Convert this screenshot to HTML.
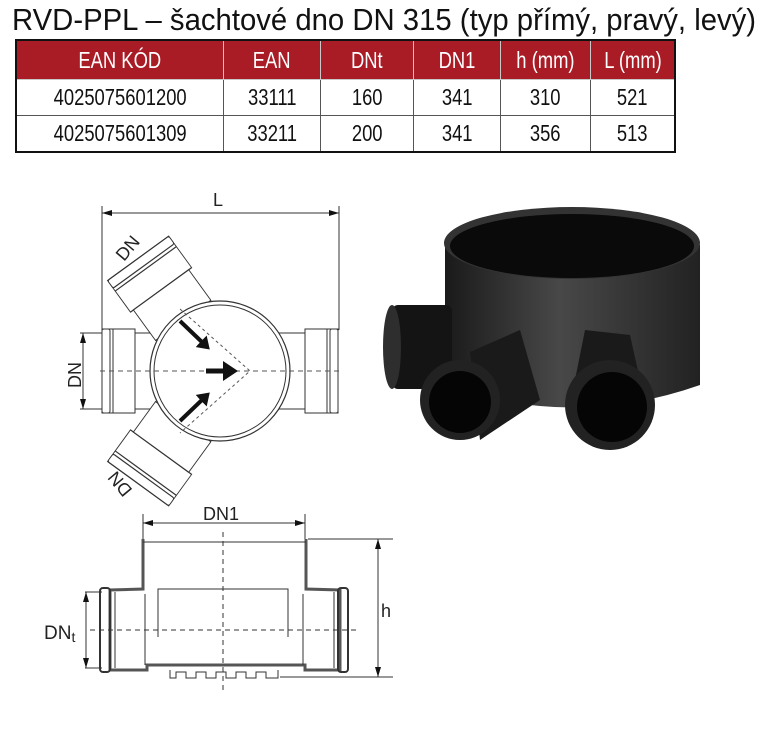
<!DOCTYPE html>
<html><head><meta charset="utf-8"><style>
html,body{margin:0;padding:0;background:#fff;}
body{width:779px;height:730px;position:relative;overflow:hidden;font-family:"Liberation Sans",sans-serif;}
.title{position:absolute;left:12px;top:2px;font-size:31px;color:#111;white-space:nowrap;transform:scaleX(0.945);transform-origin:0 0;}
table{position:absolute;left:15px;top:39px;border-collapse:collapse;border:2px solid #111;}
td{border:1px solid #555;text-align:center;font-size:23px;color:#111;padding:0;height:35px;}
td span{display:inline-block;transform:scaleX(0.8);}
tr.h td{background:#a91b25;color:#fff;height:38px;border-color:#c8c8c8;}
svg{position:absolute;left:0;top:0;}
</style></head><body>
<div class="title">RVD-PPL – šachtové dno DN 315 (typ přímý, pravý, levý)</div>
<table>
<tr class="h"><td style="width:206px"><span>EAN KÓD</span></td><td style="width:96px"><span>EAN</span></td><td style="width:92px"><span>DNt</span></td><td style="width:86px"><span>DN1</span></td><td style="width:89px"><span>h (mm)</span></td><td style="width:83px"><span>L (mm)</span></td></tr>
<tr><td><span>4025075601200</span></td><td><span>33111</span></td><td><span>160</span></td><td><span>341</span></td><td><span>310</span></td><td><span>521</span></td></tr>
<tr><td><span>4025075601309</span></td><td><span>33211</span></td><td><span>200</span></td><td><span>341</span></td><td><span>356</span></td><td><span>513</span></td></tr>
</table>
<svg width="779" height="730" viewBox="0 0 779 730">
<defs>
<marker id="ar" markerWidth="10" markerHeight="6" refX="10" refY="3" orient="auto-start-reverse" markerUnits="userSpaceOnUse"><path d="M0,0 L10,3 L0,6z" fill="#111"/></marker>
<marker id="ab" markerWidth="4" markerHeight="4" refX="1" refY="2" orient="auto" markerUnits="strokeWidth"><path d="M0,0 L3,2 L0,4z" fill="#111"/></marker>
<g id="pipe" fill="#fff" stroke="#333" stroke-width="1">
<rect x="-118" y="-42" width="33" height="84"/>
<rect x="-118" y="-42" width="8" height="84" rx="2"/>
<line x1="-107" y1="-42" x2="-107" y2="42"/>
<rect x="-85" y="-38" width="32" height="76"/>
</g>
<linearGradient id="body" x1="0" x2="1"><stop offset="0" stop-color="#1a1a1a"/><stop offset="0.45" stop-color="#484848"/><stop offset="1" stop-color="#222"/></linearGradient>
</defs>
<g stroke="#333" stroke-width="1" fill="none">
<line x1="102" y1="213" x2="339" y2="213" marker-start="url(#ar)" marker-end="url(#ar)"/>
<line x1="102" y1="206" x2="102" y2="330"/><line x1="339" y1="206" x2="339" y2="330"/>
<line x1="80" y1="333" x2="102" y2="333"/><line x1="80" y1="409" x2="102" y2="409"/>
<line x1="83" y1="333" x2="83" y2="409" marker-start="url(#ar)" marker-end="url(#ar)"/>
</g>
<g transform="translate(220,371)">
<use href="#pipe"/>
<use href="#pipe" transform="scale(-1,1)"/>
<use href="#pipe" transform="rotate(54) scale(1.18,0.9)"/>
<use href="#pipe" transform="rotate(-54) scale(1.18,0.9)"/>
<circle r="70" fill="#fff" stroke="#333" stroke-width="1.2"/>
<circle r="66" fill="none" stroke="#333" stroke-width="1"/>
<line x1="-120" y1="0" x2="120" y2="0" stroke="#555" stroke-dasharray="5,4"/>
<path d="M-40,-62 L30,0 L-40,62" fill="none" stroke="#555" stroke-dasharray="3,3"/>
<line x1="-14" y1="0" x2="8" y2="0" stroke="#111" stroke-width="5" marker-end="url(#ab)"/>
<line x1="-40" y1="-50" x2="-16" y2="-27" stroke="#111" stroke-width="4" marker-end="url(#ab)"/>
<line x1="-40" y1="50" x2="-16" y2="27" stroke="#111" stroke-width="4" marker-end="url(#ab)"/>
</g>
<text x="213" y="206" font-size="18" fill="#222">L</text>
<text transform="translate(81,388) rotate(-90)" font-size="18" fill="#222">DN</text>
<text transform="translate(124,262) rotate(-50)" font-size="18" fill="#222">DN</text>
<text transform="translate(133,490) rotate(230)" font-size="18" fill="#222">DN</text>
<g>
<path d="M445,245 L445,385 Q572,430 700,385 L700,245 Z" fill="url(#body)"/>
<ellipse cx="572" cy="243" rx="128" ry="36" fill="#333"/>
<ellipse cx="572" cy="246" rx="122" ry="32" fill="#0a0a0a"/>
<rect x="392" y="305" width="60" height="84" rx="6" fill="#141414"/>
<ellipse cx="392" cy="347" rx="9" ry="42" fill="#2e2e2e"/>
<path d="M470,352 L520,330 L540,400 L480,440 Z" fill="#1a1a1a"/>
<circle cx="460" cy="400" r="40" fill="#222"/>
<circle cx="460" cy="402" r="31" fill="#050505"/>
<path d="M585,330 L630,335 L640,380 L575,380 Z" fill="#1a1a1a"/>
<circle cx="610" cy="405" r="45" fill="#222"/>
<circle cx="612" cy="407" r="35" fill="#050505"/>
</g>
<g stroke="#333" stroke-width="1" fill="none">
<line x1="143" y1="514" x2="143" y2="540"/><line x1="305" y1="514" x2="305" y2="540"/>
<line x1="143" y1="523" x2="305" y2="523" marker-start="url(#ar)" marker-end="url(#ar)"/>
<line x1="308" y1="539" x2="393" y2="539"/><line x1="280" y1="677" x2="393" y2="677"/>
<line x1="378" y1="539" x2="378" y2="677" marker-start="url(#ar)" marker-end="url(#ar)"/>
<line x1="85" y1="592" x2="102" y2="592"/><line x1="85" y1="668" x2="102" y2="668"/>
<line x1="86" y1="592" x2="86" y2="668" marker-start="url(#ar)" marker-end="url(#ar)"/>
<path d="M143,539 L143,589 L110,590 L110,670 L147,670 L147,665 L305,665 L305,670 L340,670 L340,590 L306,589 L306,539" stroke="#555" stroke-width="3"/>
<line x1="143" y1="542" x2="306" y2="542"/>
<rect x="100" y="588" width="10" height="84" rx="3" stroke="#333" stroke-width="2"/>
<rect x="338" y="588" width="10" height="84" rx="3" stroke="#333" stroke-width="2"/>
<line x1="115" y1="592" x2="115" y2="668"/><line x1="334" y1="592" x2="334" y2="668"/>
<line x1="145" y1="594" x2="145" y2="665"/><line x1="303" y1="594" x2="303" y2="665"/>
<path d="M158,637 L158,589 L288,589 L288,637"/>
<path d="M170,670 L170,678 L176,678 L176,672 L186,672 L186,678 L196,678 L196,672 L206,672 L206,678 L216,678 L216,672 L226,672 L226,678 L236,678 L236,672 L246,672 L246,678 L256,678 L256,672 L266,672 L266,678 L278,678 L278,670"/>
<line x1="90" y1="630" x2="360" y2="630" stroke-dasharray="5,4"/>
<line x1="223" y1="532" x2="223" y2="690" stroke-dasharray="5,4"/>
</g>
<text x="203" y="520" font-size="18" fill="#222">DN1</text>
<text x="381" y="617" font-size="18" fill="#222">h</text>
<text x="44" y="639" font-size="19" fill="#222">DN<tspan font-size="14" dy="3">t</tspan></text>
</svg>
</body></html>
